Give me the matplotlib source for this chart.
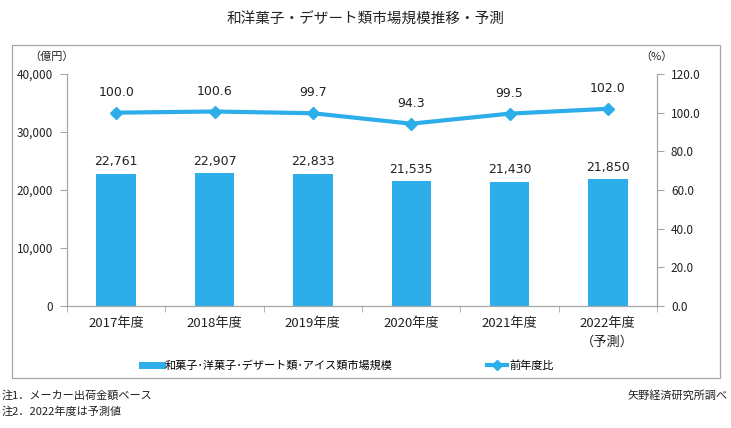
import matplotlib
matplotlib.use("Agg")
import matplotlib.pyplot as plt
from matplotlib.patches import Rectangle
from matplotlib.lines import Line2D
import numpy as np

plt.rcParams['font.family'] = ['Noto Sans CJK JP', 'DejaVu Sans']

categories = ["2017年度", "2018年度", "2019年度", "2020年度", "2021年度", "2022年度\n（予測）"]
market = [22761, 22907, 22833, 21535, 21430, 21850]
yoy = [100.0, 100.6, 99.7, 94.3, 99.5, 102.0]
left_ticks = [0, 10000, 20000, 30000, 40000]
right_ticks = [0, 20, 40, 60, 80, 100, 120]

color = '#2DADEA'
gray = '#A6A6A6'
txt = '#222222'

fig = plt.figure(figsize=(7.31, 4.28), dpi=100)
W, H = 731, 428

def fx(px):
    return px / W

def fy(py):
    return 1 - py / H

# outer border
fig.patches.append(Rectangle((fx(12), fy(378)), fx(720) - fx(12), fy(45) - fy(378),
                             transform=fig.transFigure, fill=False, edgecolor=gray, linewidth=0.9))

ax = fig.add_axes([fx(67), fy(306), fx(657) - fx(67), fy(74) - fy(306)])
x = np.arange(len(categories))
ax.bar(x, market, width=0.4, color=color, zorder=2)
ax.set_xlim(-0.5, len(categories) - 0.5)
ax.set_ylim(0, 40000)
ax.set_yticks(left_ticks)
ax.set_yticklabels([f"{v:,}" for v in left_ticks])
ax.set_xticks(x)
ax.set_xticklabels(categories, fontsize=9.5, color=txt, linespacing=1.6)
ax.set_xticks(np.arange(-0.5, len(categories)), minor=True)
ax.tick_params(axis='x', which='major', length=0, pad=8)
ax.tick_params(axis='x', which='minor', length=4, color=gray, direction='out')
ax.tick_params(axis='y', length=5, color=gray, labelsize=8.5, labelcolor=txt, pad=5)
for s in ['top', 'right']:
    ax.spines[s].set_visible(False)
for s in ['left', 'bottom']:
    ax.spines[s].set_color(gray)
    ax.spines[s].set_linewidth(0.9)

for xi, v in zip(x, market):
    ax.annotate(f"{v:,}", (xi, v), xytext=(0, 4), textcoords='offset points',
                ha='center', va='bottom', fontsize=9, color=txt, family='DejaVu Sans')

ax2 = ax.twinx()
ax2.plot(x, yoy, color=color, linewidth=3.0, marker='D', markersize=6, zorder=3)
ax2.set_ylim(0, 120)
ax2.set_yticks(right_ticks)
ax2.set_yticklabels([f"{v:.1f}" for v in right_ticks])
ax2.tick_params(axis='y', length=5, color=gray, labelsize=8.5, labelcolor=txt, pad=5)
for s in ['top', 'left', 'bottom']:
    ax2.spines[s].set_visible(False)
ax2.spines['right'].set_color(gray)
ax2.spines['right'].set_linewidth(0.9)
for xi, v in zip(x, yoy):
    ax2.annotate(f"{v:.1f}", (xi, v), xytext=(0, 10), textcoords='offset points',
                 ha='center', va='bottom', fontsize=9, color=txt, family='DejaVu Sans')

fig.text(0.5, fy(20), "和洋菓子・デザート類市場規模推移・予測", ha='center', va='center',
         fontsize=10.5, color=txt)
fig.text(fx(52), fy(57), "（億円）", ha='center', va='center', fontsize=8, color=txt)
fig.text(fx(656), fy(57), "（%）", ha='center', va='center', fontsize=8, color=txt)

# legend
legend_handles = [
    Line2D([0], [0], color=color, linewidth=5),
    Line2D([0], [0], color=color, linewidth=3, marker='D', markersize=5),
]
fig.legend(legend_handles, ["和菓子･洋菓子･デザート類･アイス類市場規模", "前年度比"],
           loc='center', bbox_to_anchor=(fx(348), fy(366)), ncol=2, frameon=False,
           fontsize=8, handlelength=1.8, handletextpad=0.2, columnspacing=8.5)

fig.text(fx(2), fy(396), "注1．メーカー出荷金額ベース", ha='left', va='center', fontsize=8, color=txt)
fig.text(fx(2), fy(412), "注2．2022年度は予測値", ha='left', va='center', fontsize=8, color=txt)
fig.text(fx(728), fy(396), "矢野経済研究所調べ", ha='right', va='center', fontsize=8, color=txt)

fig.savefig("out.png", dpi=100)
